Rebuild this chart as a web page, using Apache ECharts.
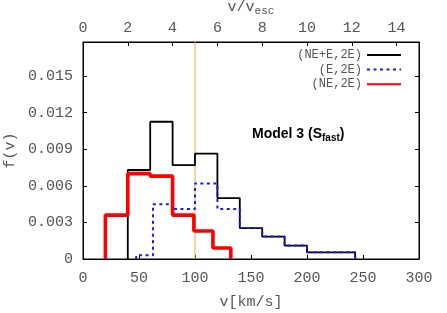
<!DOCTYPE html>
<html>
<head>
<meta charset="utf-8">
<script src="https://cdn.jsdelivr.net/npm/echarts@6/dist/echarts.min.js"></script>
<style>html,body{margin:0;padding:0;background:#fff}#c{width:447px;height:313px}</style>
</head>
<body>
<div id="c"></div>
<script>
// ---- data ----
var seriesNames = ['(NE+E,2E)', '(E,2E)', '(NE,2E)'];
var edgesAll = [40, 60, 80, 100, 120, 140, 160, 180, 200, 243];
var heightsAll = [0.0073, 0.01126, 0.0077, 0.00864, 0.0050, 0.00254, 0.00184, 0.0011, 0.00055];
var edgesE = [47.5, 62.5, 80, 100, 120, 140, 160, 180, 200, 243];
var heightsE = [0.0003, 0.0045, 0.0041, 0.0062, 0.0041, 0.00254, 0.00184, 0.0011, 0.00055];
var edgesNE = [20, 40, 60, 80, 99, 116, 132];
var heightsNE = [0.0036, 0.0070, 0.0068, 0.0036, 0.0023, 0.0009];
var xTicksKms = [0, 50, 100, 150, 200, 250, 300];
var yTicks = [0, 0.003, 0.006, 0.009, 0.012, 0.015];
var topTicks = [0, 2, 4, 6, 8, 10, 12, 14];
var vEsc = 20;          // km/s, top axis = v / vEsc
var refLineKms = 100;   // vertical reference line (5 v_esc)
var yMax = 0.0178;

function histPoints(edges, h) {
  var pts = [[edges[0], 0]];
  for (var i = 0; i < h.length; i++) {
    pts.push([edges[i], h[i]]);
    pts.push([edges[i + 1], h[i]]);
  }
  pts.push([edges[edges.length - 1], 0]);
  return pts;
}

var mono = 'Liberation Mono';
var txt = '#555';
var chart = echarts.init(document.getElementById('c'), null, {renderer: 'canvas'});
chart.setOption({
  animation: false,
  grid: {left: 83, right: 28, top: 42, bottom: 54, show: true, borderColor: '#000', borderWidth: 1,
         containLabel: false, outerBoundsMode: 'none'},
  legend: {
    data: seriesNames,
    orient: 'vertical',
    right: 45, top: 49,
    align: 'right',
    itemWidth: 34, itemHeight: 10, itemGap: 2.6,
    itemStyle: {opacity: 0, borderWidth: 0},
    textStyle: {fontFamily: mono, fontSize: 12, color: txt, padding: [0, 0, 0, 0]},
    padding: 0,
    selectedMode: false
  },
  graphic: [{
    type: 'text', left: 252, top: 127,
    style: {
      text: '{m|Model 3 (S}{s|fast}{m|)}',
      rich: {
        m: {fontFamily: 'Liberation Sans', fontWeight: 'bold', fontSize: 14, fill: '#000'},
        s: {fontFamily: 'Liberation Sans', fontWeight: 'bold', fontSize: 10, fill: '#000', padding: [8, 0, 0, 0]}
      }
    }
  }],
  xAxis: [{
    type: 'value', position: 'bottom', min: xTicksKms[0], max: xTicksKms[xTicksKms.length - 1], interval: 50,
    name: 'v[km/s]', nameLocation: 'middle', nameGap: 36,
    nameTextStyle: {fontFamily: mono, fontSize: 15, color: txt},
    axisLine: {show: true, onZero: false, lineStyle: {color: '#000', width: 1}},
    axisTick: {show: true, inside: true, length: 4, lineStyle: {color: '#000'}},
    axisLabel: {fontFamily: mono, fontSize: 15, color: txt, margin: 12},
    splitLine: {show: false}
  }, {
    type: 'value', position: 'top', min: 0, max: xTicksKms[xTicksKms.length - 1] / vEsc, interval: 2,
    name: '{a|v/v}{b|esc}', nameLocation: 'middle', nameGap: 22,
    nameTextStyle: {fontFamily: mono, fontSize: 15, color: txt,
      rich: {a: {fontFamily: mono, fontSize: 15, color: txt}, b: {fontFamily: mono, fontSize: 11, color: txt, padding: [8, 0, 0, 0]}}},
    axisLine: {show: true, onZero: false, lineStyle: {color: '#000', width: 1}},
    axisTick: {show: true, inside: true, length: 4, lineStyle: {color: '#000'}},
    axisLabel: {fontFamily: mono, fontSize: 15, color: txt, margin: 6, showMaxLabel: false,
      formatter: function (v) { return topTicks.indexOf(v) >= 0 ? String(v) : ''; }},
    splitLine: {show: false}
  }],
  yAxis: [{
    type: 'value', position: 'left', min: 0, max: yMax, interval: 0.003,
    name: 'f(v)', nameLocation: 'middle', nameGap: 62,
    nameTextStyle: {fontFamily: mono, fontSize: 15, color: txt},
    axisLine: {show: true, onZero: false, lineStyle: {color: '#000', width: 1}},
    axisTick: {show: true, inside: true, length: 4, lineStyle: {color: '#000'}},
    axisLabel: {fontFamily: mono, fontSize: 15, color: txt, margin: 10, showMaxLabel: false,
      formatter: function (v) {
        for (var i = 0; i < yTicks.length; i++) if (Math.abs(v - yTicks[i]) < 1e-9) return yTicks[i] === 0 ? '0' : yTicks[i].toFixed(3);
        return '';
      }},
    splitLine: {show: false}
  }, {
    type: 'value', position: 'right', min: 0, max: yMax, interval: 0.003,
    axisLine: {show: true, onZero: false, lineStyle: {color: '#000', width: 1}},
    axisTick: {show: true, inside: true, length: 4, lineStyle: {color: '#000'}},
    axisLabel: {show: false},
    splitLine: {show: false}
  }],
  series: [{
    name: 'ref', type: 'line', silent: true, z: 1,
    data: [[refLineKms, 0], [refLineKms, yMax]],
    showSymbol: false, symbol: 'none',
    lineStyle: {color: '#eba64a', width: 1}, itemStyle: {color: '#eba64a'},
    emphasis: {disabled: true}
  }, {
    name: seriesNames[0], type: 'line', data: histPoints(edgesAll, heightsAll),
    showSymbol: false, symbol: 'none', z: 2,
    lineStyle: {color: '#000', width: 1.8}, itemStyle: {color: '#000'}
  }, {
    name: seriesNames[1], type: 'line', data: histPoints(edgesE, heightsE),
    showSymbol: false, symbol: 'none', z: 3,
    lineStyle: {color: '#1a1aff', width: 2, type: [3, 3.5]}, itemStyle: {color: '#1a1aff'}
  }, {
    name: seriesNames[2], type: 'line', data: histPoints(edgesNE, heightsNE),
    showSymbol: false, symbol: 'none', z: 4,
    lineStyle: {color: '#ff0000', width: 3.6}, itemStyle: {color: '#ff0000'}
  }]
});
</script>
</body>
</html>
